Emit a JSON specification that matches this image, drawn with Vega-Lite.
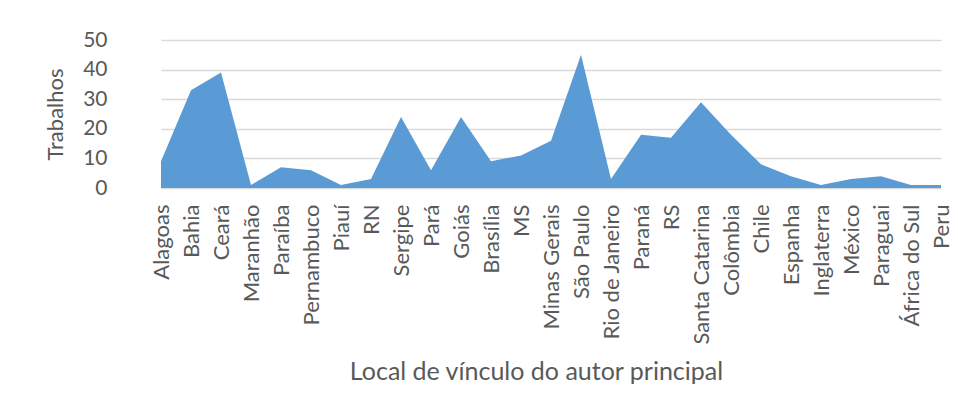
{
  "$schema": "https://vega.github.io/schema/vega-lite/v6.json",
  "width": 810,
  "height": 148,
  "autosize": "none",
  "padding": {"left": 131, "top": 40, "right": 17, "bottom": 221},
  "background": "white",
  "config": {
    "view": {"stroke": null},
    "font": "Lato"
  },
  "data": {
    "values": [
      {"local": "Alagoas", "trabalhos": 9},
      {"local": "Bahia", "trabalhos": 33},
      {"local": "Ceará", "trabalhos": 39},
      {"local": "Maranhão", "trabalhos": 1},
      {"local": "Paraíba", "trabalhos": 7},
      {"local": "Pernambuco", "trabalhos": 6},
      {"local": "Piauí", "trabalhos": 1},
      {"local": "RN", "trabalhos": 3},
      {"local": "Sergipe", "trabalhos": 24},
      {"local": "Pará", "trabalhos": 6},
      {"local": "Goiás", "trabalhos": 24},
      {"local": "Brasília", "trabalhos": 9},
      {"local": "MS", "trabalhos": 11},
      {"local": "Minas Gerais", "trabalhos": 16},
      {"local": "São Paulo", "trabalhos": 45},
      {"local": "Rio de Janeiro", "trabalhos": 3},
      {"local": "Paraná", "trabalhos": 18},
      {"local": "RS", "trabalhos": 17},
      {"local": "Santa Catarina", "trabalhos": 29},
      {"local": "Colômbia", "trabalhos": 18},
      {"local": "Chile", "trabalhos": 8},
      {"local": "Espanha", "trabalhos": 4},
      {"local": "Inglaterra", "trabalhos": 1},
      {"local": "México", "trabalhos": 3},
      {"local": "Paraguai", "trabalhos": 4},
      {"local": "África do Sul", "trabalhos": 1},
      {"local": "Peru", "trabalhos": 1}
    ]
  },
  "mark": {"type": "area", "color": "#5b9bd5", "opacity": 1, "interpolate": "linear"},
  "encoding": {
    "x": {
      "field": "local",
      "type": "ordinal",
      "sort": null,
      "scale": {"type": "point", "range": [30, 810], "padding": 0},
      "axis": {
        "title": "Local de vínculo do autor principal",
        "titleFontSize": 25,
        "titleFont": "Lato",
        "titleFontWeight": "normal",
        "titleColor": "#595959",
        "titlePadding": 15,
        "titleX": 405,
        "labelAngle": -90,
        "labelAlign": "right",
        "labelBaseline": "middle",
        "labelFontSize": 22,
        "labelColor": "#595959",
        "labelPadding": 16,
        "ticks": false,
        "tickSize": 0,
        "domain": false,
        "grid": false,
        "labelOverlap": false
      }
    },
    "y": {
      "field": "trabalhos",
      "type": "quantitative",
      "scale": {"domain": [0, 50], "nice": false},
      "axis": {
        "title": "Trabalhos",
        "titleFontSize": 22,
        "titleFont": "Lato",
        "titleFontWeight": "normal",
        "titleColor": "#595959",
        "titlePadding": 15,
        "values": [0, 10, 20, 30, 40, 50],
        "labelFontSize": 21,
        "labelColor": "#595959",
        "labelPadding": 24,
        "ticks": false,
        "tickSize": 0,
        "domain": false,
        "grid": true,
        "gridColor": "#d9d9d9",
        "gridWidth": 1.3
      }
    }
  }
}
